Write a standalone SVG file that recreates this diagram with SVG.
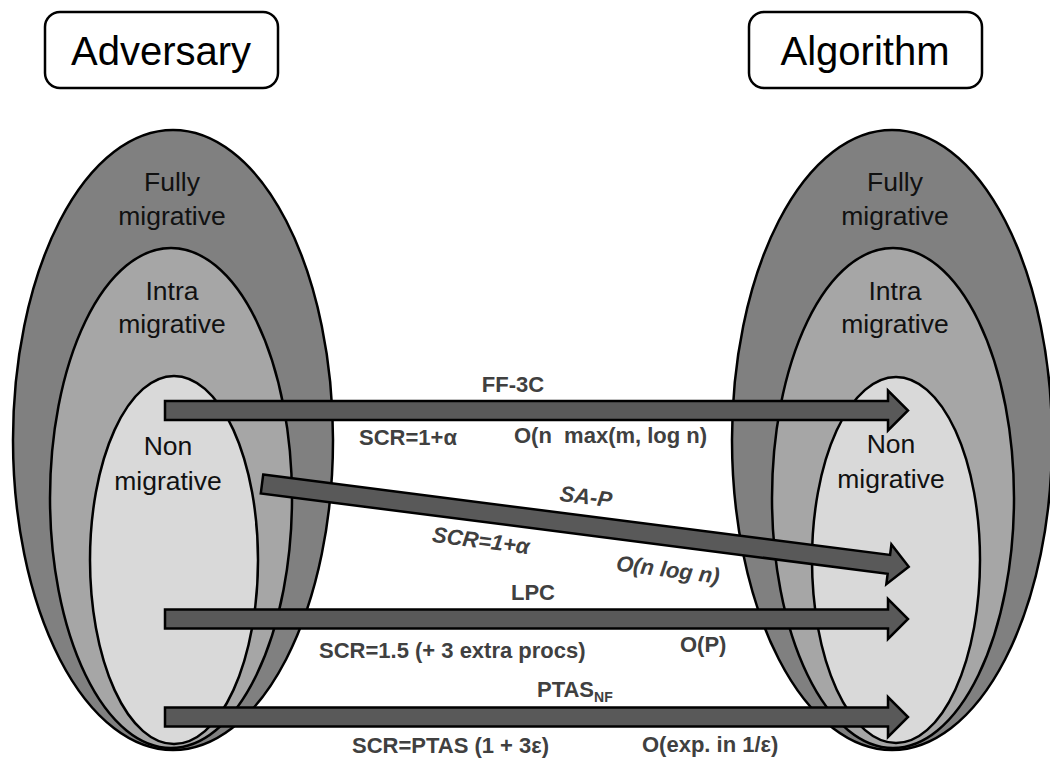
<svg xmlns="http://www.w3.org/2000/svg" width="1050" height="761" viewBox="0 0 1050 761">
<style>
.box{fill:#fff;stroke:#000;stroke-width:2.5}
.title{font-family:"Liberation Sans",Arial,sans-serif;font-size:40px;fill:#000;text-anchor:middle}
.e1{fill:#808080;stroke:#000;stroke-width:2.5}
.e2{fill:#a6a6a6;stroke:#000;stroke-width:2.5}
.e3{fill:#d9d9d9;stroke:#000;stroke-width:2.5}
.lbl{font-family:"Liberation Sans",Arial,sans-serif;font-size:26.5px;fill:#111;text-anchor:middle}
.arr{fill:#595959;stroke:#000;stroke-width:2.5;stroke-linejoin:miter}
.t{font-family:"Liberation Sans",Arial,sans-serif;font-size:22px;font-weight:bold;fill:#404040;white-space:pre}
.c{text-anchor:middle}
.i{font-style:italic}
</style>
<defs>
<path id="harrow" d="M0,-9.5 H723 V-20 L743,0 L723,20 V9.5 H0 Z"/>
</defs>
<g id="adversary">
<rect class="box" x="45" y="12" width="233" height="76" rx="15"/>
<text class="title" x="161" y="65">Adversary</text>
</g>
<g id="algorithm">
<rect class="box" x="749" y="12" width="233" height="76" rx="15"/>
<text class="title" x="865" y="65">Algorithm</text>
</g>
<g id="adv-fully">
<ellipse class="e1" cx="173" cy="440" rx="160" ry="310"/>
<text class="lbl" x="172" y="191">Fully</text>
<text class="lbl" x="172" y="225">migrative</text>
</g>
<g id="adv-intra">
<ellipse class="e2" cx="171" cy="498" rx="121" ry="250"/>
<text class="lbl" x="172" y="300">Intra</text>
<text class="lbl" x="172" y="333">migrative</text>
</g>
<g id="adv-non">
<ellipse class="e3" cx="174" cy="560" rx="84" ry="184"/>
<text class="lbl" x="168" y="455">Non</text>
<text class="lbl" x="168" y="490">migrative</text>
</g>
<g id="alg-fully">
<ellipse class="e1" cx="892" cy="440" rx="160" ry="310"/>
<text class="lbl" x="895" y="191">Fully</text>
<text class="lbl" x="895" y="225">migrative</text>
</g>
<g id="alg-intra">
<ellipse class="e2" cx="893" cy="498" rx="121" ry="250"/>
<text class="lbl" x="895" y="300">Intra</text>
<text class="lbl" x="895" y="333">migrative</text>
</g>
<g id="alg-non">
<ellipse class="e3" cx="896" cy="560" rx="84" ry="183"/>
<text class="lbl" x="891" y="453">Non</text>
<text class="lbl" x="891" y="488">migrative</text>
</g>
<g id="connectors">
<use href="#harrow" class="arr" transform="translate(165,410.5)"/>
<path class="arr" transform="translate(262,484) rotate(7.3)" d="M0,-9.5 H632 V-20 L652,0 L632,20 V9.5 H0 Z"/>
<use href="#harrow" class="arr" transform="translate(165,619)"/>
<use href="#harrow" class="arr" transform="translate(165,717)"/>
</g>
<g id="labels">
<text class="t c" x="513" y="392">FF-3C</text>
<text class="t" x="359" y="445">SCR=1+α</text>
<text class="t" x="514" y="443" xml:space="preserve">O(n  max(m, log n)</text>
<text class="t c i" transform="translate(585,504) rotate(7.3)">SA-P</text>
<text class="t c i" transform="translate(480,548) rotate(7.3)">SCR=1+α</text>
<text class="t c i" transform="translate(667,577) rotate(7.3)">O(n log n)</text>
<text class="t c" x="533" y="600">LPC</text>
<text class="t" x="319" y="658">SCR=1.5 (+ 3 extra procs)</text>
<text class="t" x="680" y="652">O(P)</text>
<text class="t" x="537" y="697">PTAS<tspan font-size="14" dy="5">NF</tspan></text>
<text class="t" x="352" y="753">SCR=PTAS (1 + 3ε)</text>
<text class="t" x="642" y="752">O(exp. in 1/ε)</text>
</g>
</svg>
